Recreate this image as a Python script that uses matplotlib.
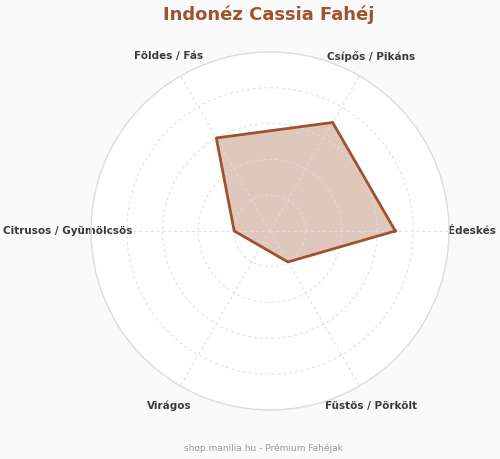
import numpy as np
import matplotlib
matplotlib.use('Agg')
import matplotlib.pyplot as plt

# Adatok
kategoriak = ['Édeskés', 'Csípős / Pikáns', 'Földes / Fás',
              'Citrusos / Gyümölcsös', 'Virágos', 'Füstös / Pörkölt']
ertekek = [7, 7, 6, 2, 1, 2]

szin = '#A0522D'

n = len(kategoriak)
szogek = np.linspace(0, 2 * np.pi, n, endpoint=False)
szogek_zart = np.concatenate([szogek, szogek[:1]])
ertekek_zart = ertekek + ertekek[:1]

fig = plt.figure(figsize=(5.0, 4.59), dpi=100, facecolor='#fafafa')
ax = fig.add_axes([0.182, 0.1068, 0.716, 0.78], projection='polar')
ax.set_facecolor('white')

ax.plot(szogek_zart, ertekek_zart, color=szin, linewidth=2)
ax.fill(szogek_zart, ertekek_zart, color=szin, alpha=0.32, linewidth=0)

ax.set_ylim(0, 10)
ax.set_yticks([2, 4, 6, 8, 10])
ax.set_yticklabels([])
ax.set_xticks(szogek)
ax.set_xticklabels(kategoriak, fontsize=7.5, fontweight='bold', color='#3a3a3a')
ax.tick_params(axis='x', pad=6)
ax.grid(True, color='#dddddd', linestyle=(0, (3, 3)), linewidth=0.7)
ax.spines['polar'].set_color('#dddddd')
ax.spines['polar'].set_linewidth(1)

fig.text(0.538, 0.968, 'Indonéz Cassia Fahéj', ha='center', va='center',
         fontsize=13, fontweight='bold', color=szin)
fig.text(0.526, 0.024, 'shop.manilia.hu - Prémium Fahéjak', ha='center',
         va='center', fontsize=6.5, color='#999999')

fig.savefig('out.png', dpi=100, facecolor=fig.get_facecolor())
